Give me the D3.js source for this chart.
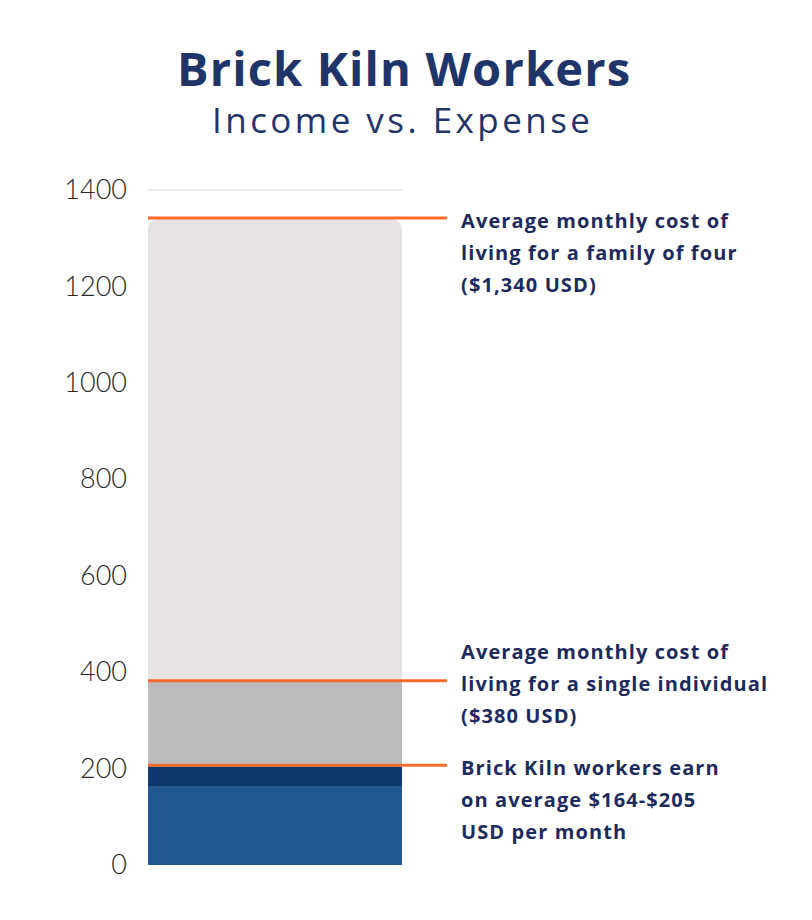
<!DOCTYPE html>
<html>
<head>
<meta charset="utf-8">
<script src="https://cdn.jsdelivr.net/npm/d3@7"></script>
<style>
  html, body { margin: 0; padding: 0; background: #fff; }
  svg { display: block; }
</style>
</head>
<body>
<svg id="chart"></svg>
<script>
// Brick Kiln Workers — income vs. expense, single stacked column

const TITLE = 'Brick Kiln Workers';
const SUBTITLE = 'Income vs. Expense';

const category = ['Brick Kiln Workers'];
const yTicks = [0, 200, 400, 600, 800, 1000, 1200, 1400];
const yMax = 1400;

// stacked bands, bottom to top
const bandNames = ['Low income', 'High income', 'Single cost', 'Family cost'];
const bandFrom = [0, 164, 205, 380];
const bandTo = [164, 205, 380, 1340];
const bandColors = ['#235792', '#0f386e', '#bbbbbb', '#e5e2e1'];

// reference lines with their notes
const markValues = [1340, 380, 205];
const markNotes = [
    ['Average monthly cost of', 'living for a family of four', '($1,340 USD)'],
    ['Average monthly cost of', 'living for a single individual', '($380 USD)'],
    ['Brick Kiln workers earn', 'on average $164-$205', 'USD per month']
];

const WIDTH = 812;
const HEIGHT = 920;
const NAVY = '#1d2b5c';
const ORANGE = '#ff6a2c';
const NOTE_FONT = '"Open Sans", sans-serif';
// which note line sits level with its orange line
const NOTE_ANCHOR = [0, 1, 0];

const svg = d3.select('#chart')
    .attr('width', WIDTH)
    .attr('height', HEIGHT);

const y = d3.scaleLinear().domain([0, yMax]).range([865, 190]);
const x = d3.scaleBand().domain(category).range([148, 402]).padding(0);

// titles
svg.append('text')
    .attr('x', 177)
    .attr('y', 86)
    .attr('font-family', NOTE_FONT)
    .attr('font-weight', 700)
    .attr('font-size', '47px')
    .attr('textLength', 453)
    .attr('lengthAdjust', 'spacing')
    .attr('fill', '#1f3468')
    .text(TITLE);

svg.append('text')
    .attr('x', 212)
    .attr('y', 133)
    .attr('font-family', NOTE_FONT)
    .attr('font-weight', 400)
    .attr('font-size', '35px')
    .attr('textLength', 378)
    .attr('lengthAdjust', 'spacing')
    .attr('fill', '#1f3468')
    .text(SUBTITLE);

// top grid line only
svg.append('line')
    .attr('x1', x.range()[0])
    .attr('x2', x.range()[1])
    .attr('y1', y(yMax))
    .attr('y2', y(yMax))
    .attr('stroke', '#e3e3e3')
    .attr('stroke-width', 1.5);

// y axis labels
const yAxis = d3.axisLeft(y)
    .tickValues(yTicks)
    .tickSize(0)
    .tickPadding(0)
    .tickFormat(d => d);

svg.append('g')
    .attr('transform', 'translate(127,0)')
    .call(yAxis)
    .call(g => g.select('.domain').remove())
    .call(g => g.selectAll('text')
        .attr('font-family', 'Lato, sans-serif')
        .attr('font-weight', 300)
        .attr('font-size', '27px')
        .attr('fill', '#2a2a2a'));

// stacked bands
const bands = bandNames.map((name, i) => ({
    name, from: bandFrom[i], to: bandTo[i], color: bandColors[i]
}));
const bw = x.bandwidth();
const x0 = x(category[0]);
const r = 12;

svg.append('g')
    .selectAll('path')
    .data(bands)
    .join('path')
    .attr('fill', d => d.color)
    .attr('d', (d, i) => {
        const top = y(d.to), bot = y(d.from);
        if (i < bands.length - 1) {
            return `M${x0},${bot}V${top}H${x0 + bw}V${bot}Z`;
        }
        // round the top corners of the last band
        return `M${x0},${bot}V${top + r}Q${x0},${top} ${x0 + r},${top}` +
            `H${x0 + bw - r}Q${x0 + bw},${top} ${x0 + bw},${top + r}V${bot}Z`;
    });

// reference lines
const marks = markValues.map((v, i) => ({ v, lines: markNotes[i], anchor: NOTE_ANCHOR[i] }));

svg.append('g')
    .selectAll('line')
    .data(marks)
    .join('line')
    .attr('x1', x0)
    .attr('x2', 447)
    .attr('y1', d => y(d.v) - 1)
    .attr('y2', d => y(d.v) - 1)
    .attr('stroke', ORANGE)
    .attr('stroke-width', 3);

// notes
const LINE_H = 32;
svg.append('g')
    .selectAll('text')
    .data(marks)
    .join('text')
    .attr('x', 461)
    .attr('y', d => y(d.v) + 9 - d.anchor * LINE_H)
    .attr('font-family', NOTE_FONT)
    .attr('font-weight', 700)
    .attr('font-size', '20px')
    .attr('letter-spacing', '1.1px')
    .attr('fill', NAVY)
    .selectAll('tspan')
    .data(d => d.lines)
    .join('tspan')
    .attr('x', 461)
    .attr('dy', (d, i) => i === 0 ? 0 : LINE_H)
    .text(d => d);
</script>
</body>
</html>
